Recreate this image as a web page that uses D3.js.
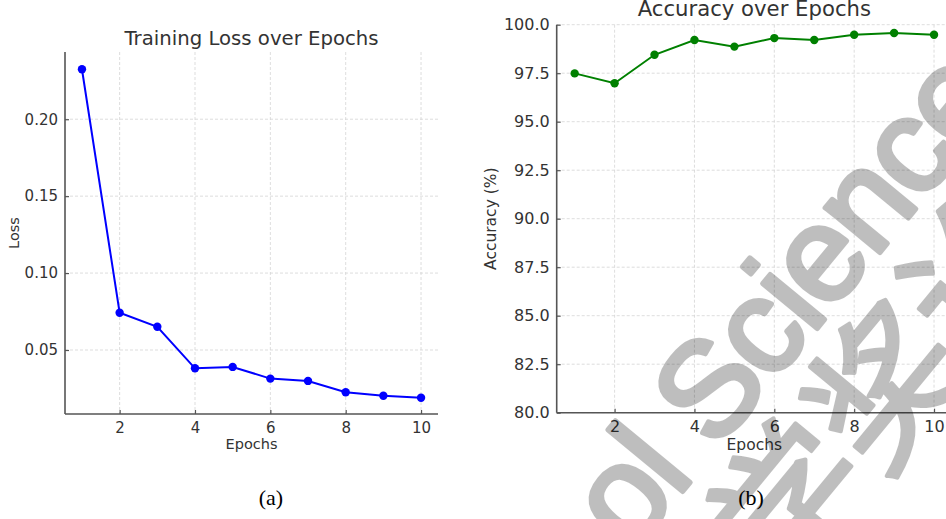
<!DOCTYPE html>
<html>
<head>
<meta charset="utf-8">
<script src="https://cdn.jsdelivr.net/npm/d3@7"></script>
<style>
html,body{margin:0;padding:0;background:#fff;}
svg{display:block;}
</style>
</head>
<body>
<svg id="chart" width="946" height="519"></svg>
<script>
// ---- data ----
const epochs = [1,2,3,4,5,6,7,8,9,10];
const lossValues = [0.2325,0.0742,0.0651,0.0381,0.0390,0.0314,0.0299,0.0225,0.0203,0.0190];
const accuracyValues = [97.49,96.98,98.45,99.21,98.87,99.31,99.21,99.48,99.57,99.48];
const xTicks = [2,4,6,8,10];
const lossTicks = [0.05,0.10,0.15,0.20];
const accTicks = [80.0,82.5,85.0,87.5,90.0,92.5,95.0,97.5,100.0];
const titles = ["Training Loss over Epochs","Accuracy over Epochs"];
const yLabels = ["Loss","Accuracy (%)"];
const xLabel = "Epochs";
const captions = ["(a)","(b)"];
const watermarkLatin = "ool Science";
const watermarkCJK = "学奖论";

const svg = d3.select("#chart");
const FONT = "'DejaVu Sans', sans-serif";

function panel(cfg){
  const g = svg.append("g");
  const x = d3.scaleLinear().domain([0.55,10.45]).range([cfg.left, cfg.right]);
  const y = d3.scaleLinear().domain(cfg.yDomain).range([cfg.bottom, cfg.top]);

  // grid
  const grid = g.append("g");
  grid.selectAll("line.vx").data(xTicks).join("line")
    .attr("x1", d=>x(d)).attr("x2", d=>x(d))
    .attr("y1", cfg.top).attr("y2", cfg.bottom);
  grid.selectAll("line.hy").data(cfg.yTicks).join("line")
    .attr("class","hy")
    .attr("x1", cfg.left).attr("x2", cfg.right)
    .attr("y1", d=>y(d)).attr("y2", d=>y(d));
  grid.selectAll("line").attr("stroke","#d4d4d4").attr("stroke-width",0.8)
    .attr("stroke-dasharray","3,2");

  // axes (inward ticks)
  const xAxis = d3.axisBottom(x).tickValues(xTicks).tickSize(-4).tickPadding(8)
    .tickFormat(d3.format("d"));
  const yAxis = d3.axisLeft(y).tickValues(cfg.yTicks).tickSize(-4).tickPadding(7)
    .tickFormat(cfg.yFormat);
  const gx = g.append("g").attr("transform",`translate(0,${cfg.bottom})`).call(xAxis);
  const gy = g.append("g").attr("transform",`translate(${cfg.left},0)`).call(yAxis);
  [gx,gy].forEach(a=>{
    a.select(".domain").attr("stroke","#555").attr("stroke-width",1.6);
    a.selectAll(".tick line").attr("stroke","#555").attr("stroke-width",1.2);
    a.selectAll(".tick text").attr("fill","#333").style("font-family",FONT)
      .style("font-size",cfg.tickSize+"px");
  });
  gx.select(".domain").attr("d",`M${cfg.left},0H${cfg.right}`);
  gy.select(".domain").attr("d",`M0,${cfg.bottom}V${cfg.top}`);

  // line + markers
  const pts = epochs.map((e,i)=>[e,cfg.values[i]]);
  g.append("path").datum(pts)
    .attr("fill","none").attr("stroke",cfg.color).attr("stroke-width",2)
    .attr("d", d3.line().x(d=>x(d[0])).y(d=>y(d[1])));
  g.selectAll("circle.m").data(pts).join("circle")
    .attr("cx",d=>x(d[0])).attr("cy",d=>y(d[1])).attr("r",4.2)
    .attr("fill",cfg.color);

  // texts
  g.append("text").text(cfg.title)
    .attr("x",(cfg.left+cfg.right)/2).attr("y",cfg.titleY)
    .attr("text-anchor","middle").attr("fill","#333")
    .style("font-family",FONT).style("font-size",cfg.titleSize+"px");
  g.append("text").text(xLabel)
    .attr("x",(cfg.left+cfg.right)/2).attr("y",cfg.xLabelY)
    .attr("text-anchor","middle").attr("fill","#333")
    .style("font-family",FONT).style("font-size",cfg.labelSize+"px");
  g.append("text").text(cfg.yLabel)
    .attr("transform",`translate(${cfg.yLabelX},${(cfg.top+cfg.bottom)/2}) rotate(-90)`)
    .attr("text-anchor","middle").attr("fill","#333")
    .style("font-family",FONT).style("font-size",cfg.labelSize+"px");
  g.append("text").text(cfg.caption)
    .attr("x",cfg.capX).attr("y",505)
    .attr("text-anchor","middle").attr("fill","#000")
    .style("font-family","'Liberation Serif', 'Times New Roman', serif").style("font-size","22px");
}

panel({left:65,right:438,top:52,bottom:414,yDomain:[0.0084,0.2437],yTicks:lossTicks,
  yFormat:d3.format(".2f"),values:lossValues,color:"#0000ff",title:titles[0],yLabel:yLabels[0],
  caption:captions[0],capX:271,titleY:45,xLabelY:449,yLabelX:19,tickSize:15,labelSize:14.5,titleSize:19.7});
panel({left:556.7,right:952,top:24.7,bottom:412.7,yDomain:[80,100],yTicks:accTicks,
  yFormat:d3.format(".1f"),values:accuracyValues,color:"#008000",title:titles[1],yLabel:yLabels[1],
  caption:captions[1],capX:751,titleY:16,xLabelY:450,yLabelX:496,tickSize:16,labelSize:15.5,titleSize:21.2});

// watermark (semi-transparent grey overlay)
const wm = svg.append("g").attr("opacity",0.25).attr("fill","#000").attr("stroke","#000")
  .attr("stroke-linejoin","round").attr("stroke-linecap","round");
wm.append("text").text(watermarkLatin)
  .attr("transform","translate(586,609) rotate(-50.5)")
  .attr("stroke-width",5)
  .style("letter-spacing","-3px")
  .style("font-family","'Liberation Sans', Arial, sans-serif")
  .style("font-size","134px");
wm.append("text").text(watermarkCJK)
  .attr("transform","translate(785,595) rotate(-50.5)")
  .attr("stroke-width",4)
  .style("font-family","'Noto Sans CJK SC', sans-serif")
  .style("font-size","150px");
</script>
</body>
</html>
